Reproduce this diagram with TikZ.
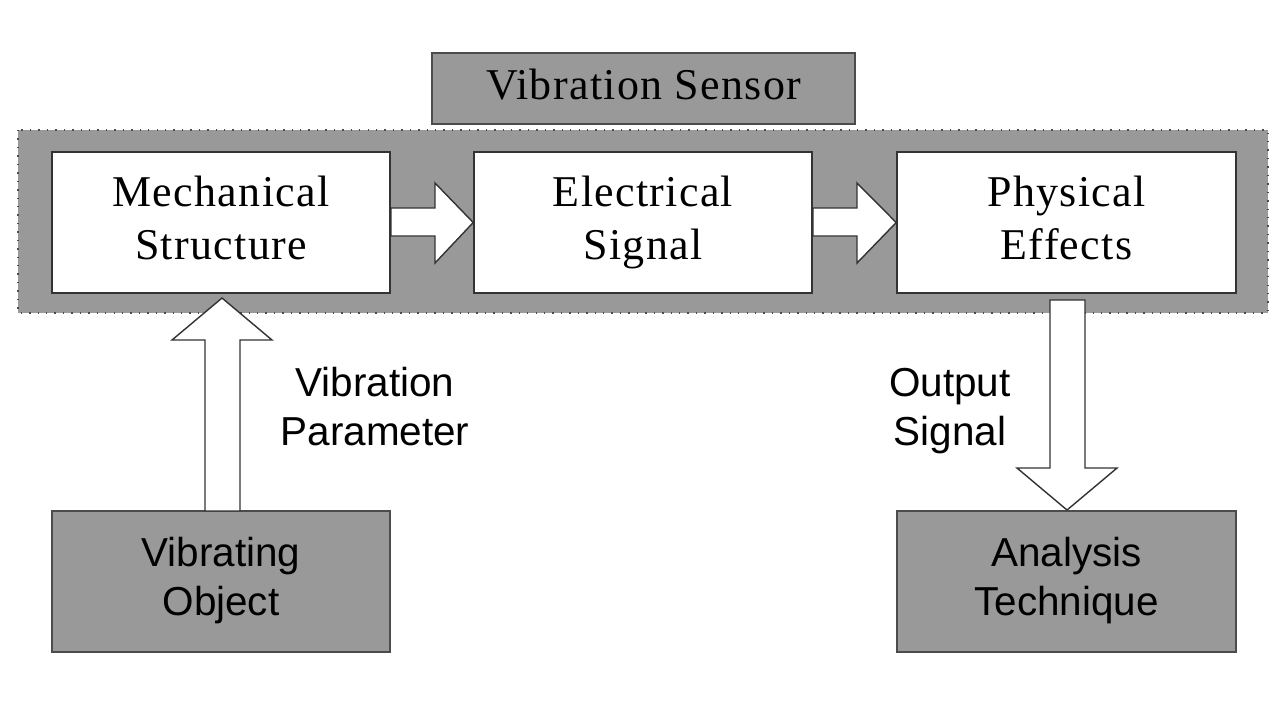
\documentclass[tikz,border=0pt]{standalone}
\usepackage{fontspec}
\setmainfont{Liberation Serif}[LetterSpace=3]
\setsansfont{Liberation Sans}
\begin{document}
\begin{tikzpicture}[x=0.01cm,y=-0.01cm,
  gbox/.style={draw=black!70,fill=black!40,inner sep=0},
  wbox/.style={draw=black!80,fill=white,inner sep=0},
  serift/.style={font=\fontsize{12.5}{15}\selectfont,align=center},
  sanst/.style={font=\sffamily\fontsize{11.5}{14}\selectfont,align=center},
  barrow/.style={draw=black!80,fill=white,line join=miter}]
\useasboundingbox (0,0) rectangle (1280,720);
\fill[white] (0,0) rectangle (1280,720);
\draw[fill=black!40,draw=black!70,dotted] (18,130) rectangle (1268,313);
\node[gbox,minimum width=4.23cm,minimum height=0.71cm,serift] (title) at (643.5,88.5) {Vibration Sensor\strut};
\node[wbox,minimum width=3.38cm,minimum height=1.41cm,serift] (mech) at (221,222.5) {Mechanical\strut\\Structure\strut};
\node[wbox,minimum width=3.38cm,minimum height=1.41cm,serift] (elec) at (643,222.5) {Electrical\strut\\Signal\strut};
\node[wbox,minimum width=3.39cm,minimum height=1.41cm,serift] (phys) at (1066.5,222.5) {Physical\strut\\Effects\strut};
\node[gbox,minimum width=3.38cm,minimum height=1.41cm,sanst] (obj) at (221,581.5) {Vibrating\strut\\Object\strut};
\node[gbox,minimum width=3.39cm,minimum height=1.41cm,sanst] (ana) at (1066.5,581.5) {Analysis\strut\\Technique\strut};
% right arrows
\draw[barrow] (mech.east |- 0,208) -- (435,208) -- (435,183) -- (elec.west) -- (435,263) -- (435,236) -- (mech.east |- 0,236) -- cycle;
\draw[barrow] (elec.east |- 0,208) -- (857,208) -- (857,183) -- (phys.west) -- (857,263) -- (857,236) -- (elec.east |- 0,236) -- cycle;
% up arrow
\draw[barrow] (205,511) -- (205,340) -- (172,340) -- (222,298) -- (272,340) -- (240,340) -- (240,511) -- cycle;
% down arrow
\draw[barrow] (1050,300) -- (1050,468) -- (1017,468) -- (1067,510) -- (1117,468) -- (1085,468) -- (1085,300) -- cycle;
\node[sanst] (vp) at (375,411) {Vibration\strut\\Parameter\strut};
\node[sanst] (os) at (950,411) {Output\strut\\Signal\strut};
\end{tikzpicture}
\end{document}
